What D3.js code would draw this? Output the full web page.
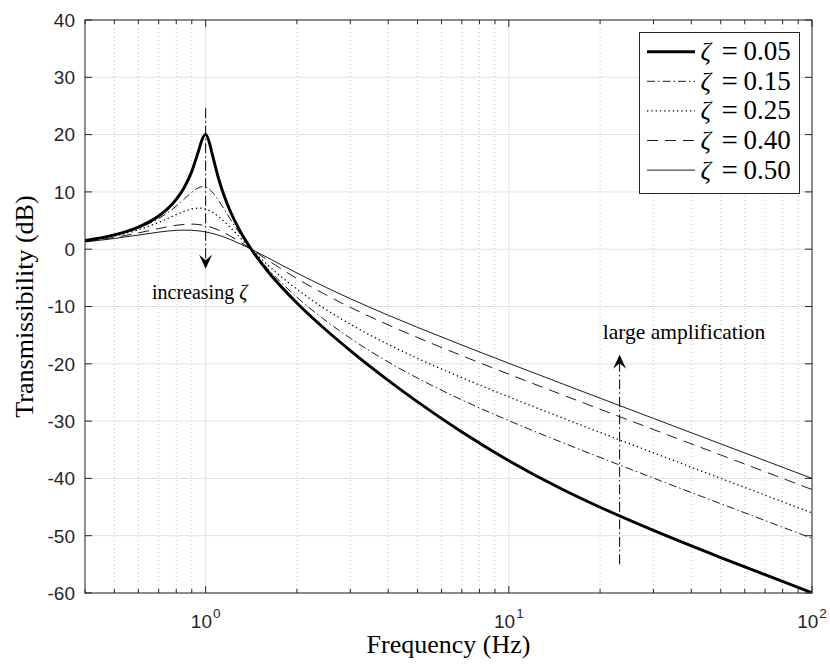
<!DOCTYPE html>
<html>
<head>
<meta charset="utf-8">
<script src="https://cdn.jsdelivr.net/npm/d3@7"></script>
<style>
  html, body { margin: 0; padding: 0; background: #fff; }
  svg { display: block; }
</style>
</head>
<body>
<svg id="chart" width="830" height="666"></svg>
<script>
// Excitation frequency (Hz); natural frequency is 1 Hz
const freqHz = [0.4, 0.5, 0.6, 0.7, 0.75, 0.8, 0.85, 0.9, 0.95, 0.97, 1.0, 1.03, 1.05, 1.1, 1.15, 1.2, 1.3, 1.414, 1.6, 2, 2.5, 3, 4, 5, 7, 10, 15, 20, 30, 50, 70, 100];

// Transmissibility (dB) for each damping ratio
const zeta005 = [1.51, 2.49, 3.85, 5.79, 7.08, 8.69, 10.78, 13.58, 17.36, 18.93, 20.04, 18.49, 16.72, 12.56, 9.37, 6.88, 3.14, 0.00, -3.80, -9.39, -14.15, -17.69, -22.88, -26.64, -31.89, -36.90, -41.89, -45.03, -49.08, -53.81, -56.81, -59.96];
const zeta015 = [1.49, 2.43, 3.68, 5.36, 6.38, 7.52, 8.75, 9.93, 10.76, 10.90, 10.83, 10.43, 10.01, 8.60, 7.00, 5.44, 2.63, 0.00, -3.36, -8.38, -12.55, -15.54, -19.68, -22.50, -26.30, -29.92, -33.73, -36.34, -39.94, -44.42, -47.35, -50.45];
const zeta025 = [1.45, 2.30, 3.39, 4.67, 5.36, 6.03, 6.61, 7.02, 7.17, 7.14, 6.99, 6.73, 6.49, 5.75, 4.86, 3.90, 2.00, 0.00, -2.73, -6.99, -10.56, -13.09, -16.61, -19.05, -22.43, -25.77, -29.43, -31.98, -35.54, -39.99, -42.92, -46.02];
const zeta040 = [1.35, 2.06, 2.84, 3.60, 3.92, 4.17, 4.33, 4.38, 4.29, 4.23, 4.09, 3.91, 3.77, 3.36, 2.88, 2.36, 1.26, 0.00, -1.89, -5.12, -8.00, -10.14, -13.21, -15.42, -18.58, -21.81, -25.40, -27.93, -31.47, -35.91, -38.84, -41.94];
const zeta050 = [1.27, 1.87, 2.47, 2.98, 3.17, 3.29, 3.33, 3.30, 3.19, 3.13, 3.01, 2.87, 2.76, 2.46, 2.12, 1.74, 0.94, 0.00, -1.47, -4.15, -6.69, -8.63, -11.52, -13.64, -16.73, -19.91, -23.48, -26.00, -29.53, -33.98, -36.90, -40.00];

const legendLabels = ["0.05", "0.15", "0.25", "0.40", "0.50"];
const yTicks = [40, 30, 20, 10, 0, -10, -20, -30, -40, -50, -60];
const xDecades = [0, 1, 2];

// Annotation arrows: [frequency, dB start, dB tip]
const arrowDown = [1.0, 24.6, -3.4];
const arrowUp = [23.2, -55.0, -18.4];

const svg = d3.select("#chart");
const plotL = 85, plotR = 812, plotT = 20, plotB = 593;

const x = d3.scaleLog().domain([0.4, 100]).range([plotL, plotR]);
const y = d3.scaleLinear().domain([-60, 40]).range([plotB, plotT]);

const axisColor = "#262626";
const serif = "'Liberation Serif', 'Times New Roman', serif";
const sans = "'Liberation Sans', Arial, Helvetica, sans-serif";

// Minor/major x positions
const minorX = [];
[0.1, 1, 10].forEach(d => { for (let k = 2; k <= 9; k++) { const v = d * k; if (v >= 0.4 && v < 100) minorX.push(v); } });
const majorX = [1, 10, 100];

// Grid
const grid = svg.append("g");
grid.selectAll(".minor").data(minorX).join("line")
  .attr("x1", d => x(d)).attr("x2", d => x(d)).attr("y1", plotT).attr("y2", plotB)
  .attr("stroke", "#c4c4c4").attr("stroke-width", 1).attr("stroke-dasharray", "1,3");
grid.selectAll(".majx").data(majorX).join("line")
  .attr("x1", d => x(d)).attr("x2", d => x(d)).attr("y1", plotT).attr("y2", plotB)
  .attr("stroke", "#e2e2e2").attr("stroke-width", 1);
grid.selectAll(".majy").data(yTicks).join("line")
  .attr("x1", plotL).attr("x2", plotR).attr("y1", d => y(d)).attr("y2", d => y(d))
  .attr("stroke", "#e2e2e2").attr("stroke-width", 1);

// Curves
svg.append("defs").append("clipPath").attr("id", "plotClip")
  .append("rect").attr("x", plotL).attr("y", plotT).attr("width", plotR - plotL).attr("height", plotB - plotT);

const series = [
  { values: zeta005, width: 2.9, dash: null },
  { values: zeta015, width: 0.9, dash: "8,3,1.5,3" },
  { values: zeta025, width: 1.3, dash: "1.3,3" },
  { values: zeta040, width: 0.9, dash: "11,7" },
  { values: zeta050, width: 0.9, dash: null }
];

const line = d3.line().x(d => x(d[0])).y(d => y(d[1])).curve(d3.curveMonotoneX);
const curves = svg.append("g").attr("clip-path", "url(#plotClip)");
series.forEach(s => {
  curves.append("path")
    .datum(freqHz.map((f, i) => [f, s.values[i]]))
    .attr("d", line)
    .attr("fill", "none")
    .attr("stroke", "#000")
    .attr("stroke-width", s.width)
    .attr("stroke-dasharray", s.dash)
    .attr("stroke-linejoin", "round");
});

// Arrows with concave heads
function arrow(a) {
  const px = x(a[0]), y0 = y(a[1]), y1 = y(a[2]);
  const dir = Math.sign(y1 - y0);
  const headLen = 14, headHalf = 6.5, notch = 8.5;
  svg.append("line")
    .attr("x1", px).attr("x2", px).attr("y1", y0).attr("y2", y1 - dir * notch)
    .attr("stroke", "#000").attr("stroke-width", 1).attr("stroke-dasharray", "10,3,1.5,3");
  const p = d3.path();
  p.moveTo(px, y1);
  p.lineTo(px - headHalf, y1 - dir * headLen);
  p.lineTo(px, y1 - dir * notch);
  p.lineTo(px + headHalf, y1 - dir * headLen);
  p.closePath();
  svg.append("path").attr("d", p.toString()).attr("fill", "#000");
}
arrow(arrowDown);
arrow(arrowUp);

// Annotation text
const t1 = svg.append("text").attr("x", x(arrowDown[0]) - 6).attr("y", 299)
  .attr("text-anchor", "middle").attr("font-family", serif).attr("font-size", 20).attr("fill", "#000");
t1.append("tspan").text("increasing ");
t1.append("tspan").attr("font-style", "italic").text("ζ");

svg.append("text").attr("x", 684).attr("y", 339)
  .attr("text-anchor", "middle").attr("font-family", serif).attr("font-size", 21.5).attr("fill", "#000")
  .text("large amplification");

// Frame and ticks
const frame = svg.append("g").attr("stroke", axisColor).attr("stroke-width", 1).attr("fill", "none");
frame.append("rect").attr("x", plotL).attr("y", plotT).attr("width", plotR - plotL).attr("height", plotB - plotT);
frame.selectAll(".ty").data(yTicks).join("g").each(function(d) {
  const g = d3.select(this);
  g.append("line").attr("x1", plotL).attr("x2", plotL + 7).attr("y1", y(d)).attr("y2", y(d));
  g.append("line").attr("x1", plotR).attr("x2", plotR - 7).attr("y1", y(d)).attr("y2", y(d));
});
frame.selectAll(".tmx").data(minorX).join("g").each(function(d) {
  const g = d3.select(this);
  g.append("line").attr("x1", x(d)).attr("x2", x(d)).attr("y1", plotB).attr("y2", plotB - 4);
  g.append("line").attr("x1", x(d)).attr("x2", x(d)).attr("y1", plotT).attr("y2", plotT + 4);
});
frame.selectAll(".tMx").data(majorX).join("g").each(function(d) {
  const g = d3.select(this);
  g.append("line").attr("x1", x(d)).attr("x2", x(d)).attr("y1", plotB).attr("y2", plotB - 7);
  g.append("line").attr("x1", x(d)).attr("x2", x(d)).attr("y1", plotT).attr("y2", plotT + 7);
});

// Tick labels
svg.append("g").selectAll("text").data(yTicks).join("text")
  .attr("x", plotL - 10).attr("y", d => y(d)).attr("dy", "0.36em")
  .attr("text-anchor", "end").attr("font-family", sans).attr("font-size", 19).attr("fill", axisColor)
  .text(d => d);

svg.append("g").selectAll("text").data(xDecades).join("text")
  .attr("x", d => x(Math.pow(10, d))).attr("y", 628)
  .attr("text-anchor", "middle").attr("font-family", sans).attr("font-size", 19).attr("fill", axisColor)
  .each(function(d) {
    const t = d3.select(this);
    t.append("tspan").text("10");
    t.append("tspan").attr("font-size", 13.5).attr("dy", -10).attr("dx", 1).text(d);
  });

// Axis titles
svg.append("text").attr("x", (plotL + plotR) / 2).attr("y", 653)
  .attr("text-anchor", "middle").attr("font-family", serif).attr("font-size", 26).attr("fill", "#000")
  .text("Frequency (Hz)");
svg.append("text").attr("transform", `translate(33,${(plotT + plotB) / 2}) rotate(-90)`)
  .attr("text-anchor", "middle").attr("font-family", serif).attr("font-size", 26).attr("fill", "#000")
  .text("Transmissibility (dB)");

// Legend
const lg = svg.append("g");
const lgX = 639.5, lgY = 32.5, lgW = 160, lgH = 161, rowH = 29.6, row0 = 51.7;
lg.append("rect").attr("x", lgX).attr("y", lgY).attr("width", lgW).attr("height", lgH)
  .attr("fill", "#fff").attr("stroke", axisColor).attr("stroke-width", 1);
series.forEach((s, i) => {
  const cy = row0 + i * rowH;
  lg.append("line").attr("x1", lgX + 7.5).attr("x2", lgX + 55.5).attr("y1", cy).attr("y2", cy)
    .attr("stroke", "#000").attr("stroke-width", s.width).attr("stroke-dasharray", s.dash);
  lg.append("text").attr("x", lgX + 61).attr("y", cy + 8.5)
    .attr("font-family", serif).attr("font-size", 26).attr("font-style", "italic").attr("fill", "#000")
    .text("ζ");
  lg.append("text").attr("x", lgX + 82).attr("y", cy + 9.5)
    .attr("font-family", serif).attr("font-size", 29).attr("fill", "#000")
    .text("=");
  lg.append("text").attr("x", lgX + 104).attr("y", cy + 8.5)
    .attr("font-family", serif).attr("font-size", 27).attr("fill", "#000")
    .text(legendLabels[i]);
});
</script>
</body>
</html>
